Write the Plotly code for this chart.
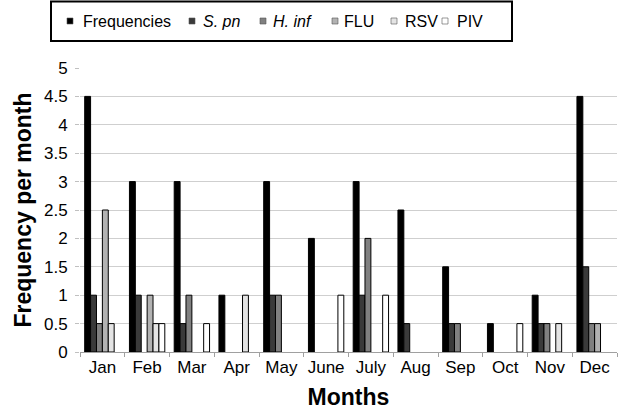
import plotly.graph_objects as go

months = ["Jan", "Feb", "Mar", "Apr", "May", "June", "July", "Aug", "Sep", "Oct", "Nov", "Dec"]
frequencies = [4.5, 3, 3, 1, 3, 2, 3, 2.5, 1.5, 0.5, 1, 4.5]
s_pn = [1, 1, 0.5, 0, 1, 0, 1, 0.5, 0.5, 0, 0.5, 1.5]
h_inf = [0.5, 0, 1, 0, 1, 0, 2, 0, 0.5, 0, 0.5, 0.5]
flu = [2.5, 1, 0, 0, 0, 0, 0, 0, 0, 0, 0, 0.5]
rsv = [0.5, 0.5, 0, 1, 0, 0, 0, 0, 0, 0, 0.5, 0]
piv = [0, 0.5, 0.5, 0, 0, 1, 1, 0, 0, 0.5, 0, 0]

series_names = ["Frequencies", "<i>S. pn</i>", "<i>H. inf</i>", "FLU", "RSV", "PIV"]
series_values = [frequencies, s_pn, h_inf, flu, rsv, piv]
series_colors = ["#000000", "#3a3a3a", "#808080", "#b2b2b2", "#e4e4e4", "#ffffff"]

FONT = "Liberation Sans, Arial, sans-serif"
W, H = 618, 410
L, R, T, B = 80, 1, 68, 58
PW, PH = W - L - R, H - T - B


def px_x(x):
    return (x - L) / PW


def px_y(y):
    return (H - B - y) / PH


fig = go.Figure()
for name, vals, col in zip(series_names, series_values, series_colors):
    fig.add_trace(go.Bar(
        x=months, y=vals, name=name, showlegend=False,
        marker=dict(color=col,
                    line=dict(color="#000000", width=[1 if v > 0 else 0 for v in vals])),
    ))

# Manual legend (boxed) matching the reference layout
legend_marker_x = [67, 189, 260, 332, 391, 442]
legend_text_x = [81, 201, 271, 342, 403, 455]
legend_y = 21
shapes = [dict(
    type="rect", xref="paper", yref="paper",
    x0=px_x(51), x1=px_x(512), y0=px_y(41), y1=px_y(1.5),
    line=dict(color="#000000", width=2), fillcolor="rgba(0,0,0,0)", layer="above",
)]
annotations = []
for name, col, mx, tx in zip(series_names, series_colors, legend_marker_x, legend_text_x):
    shapes.append(dict(
        type="rect", xref="paper", yref="paper",
        x0=px_x(mx), x1=px_x(mx + 6), y0=px_y(legend_y + 3), y1=px_y(legend_y - 3),
        line=dict(color="#555555", width=0.6), fillcolor=col, layer="above",
    ))
    annotations.append(dict(
        xref="paper", yref="paper", x=px_x(tx), y=px_y(legend_y),
        xanchor="left", yanchor="middle", showarrow=False, text=name,
        font=dict(family=FONT, size=16, color="#000000"),
    ))

fig.update_layout(
    width=W, height=H,
    margin=dict(l=L, r=R, t=T, b=B, autoexpand=False),
    paper_bgcolor="white", plot_bgcolor="white",
    barmode="group", bargap=0.21, bargroupgap=0,
    font=dict(family=FONT, size=17, color="#000000"),
    showlegend=False,
    shapes=shapes,
    annotations=annotations,
    xaxis=dict(
        title=dict(text="<b>Months</b>", font=dict(family=FONT, size=23), standoff=13),
        showline=True, linecolor="#a0a0a0", linewidth=1,
        ticks="outside", tickson="boundaries", ticklen=4, tickcolor="#a0a0a0",
        tickfont=dict(family=FONT, size=17), tickangle=0, automargin=False,
        showgrid=False,
    ),
    yaxis=dict(
        title=dict(text="<b>Frequency per month</b>", font=dict(family=FONT, size=23), standoff=5),
        range=[0, 5], dtick=0.5, tick0=0,
        showgrid=True, gridcolor="#cfcfcf", gridwidth=1,
        showline=False, zeroline=False, automargin=False,
        ticks="outside", ticklen=4, tickcolor="#c0c0c0",
        ticklabelstandoff=4,
        tickfont=dict(family=FONT, size=17),
    ),
)

fig.write_html("out.html", config={"displayModeBar": False},
               post_script="document.body.style.margin='0';")
